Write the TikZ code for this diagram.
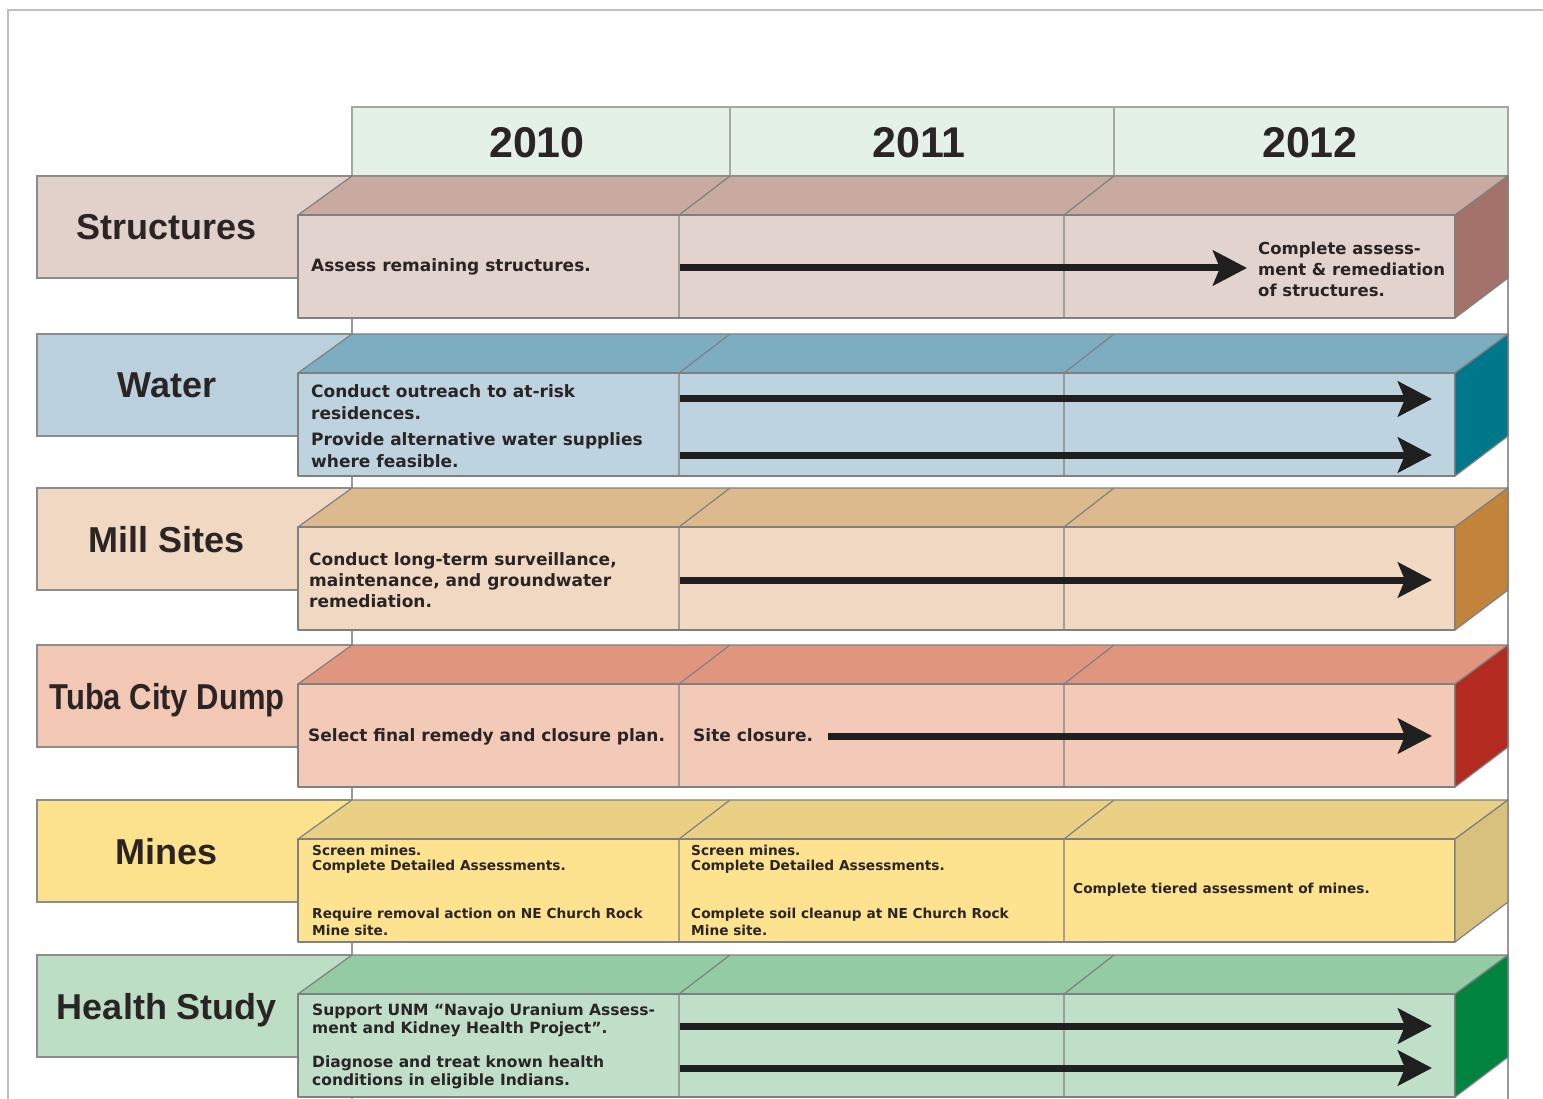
\documentclass[tikz,border=0pt]{standalone}
\usepackage{graphicx}
\usepackage{fontspec}
\setmainfont{DejaVu Sans}
\newfontfamily\labfont{Liberation Sans}
\newfontfamily\txtfont{DejaVu Sans}
\usetikzlibrary{arrows.meta}

\definecolor{hdrF}{HTML}{E3F1E7}
\definecolor{strL}{HTML}{E2D0CB}\definecolor{strT}{HTML}{C9AAA1}\definecolor{strF}{HTML}{E3D3CF}\definecolor{strR}{HTML}{A3726A}
\definecolor{watL}{HTML}{BBD0DD}\definecolor{watT}{HTML}{7DADC0}\definecolor{watF}{HTML}{BED3E0}\definecolor{watR}{HTML}{00788B}
\definecolor{milL}{HTML}{F0D8C2}\definecolor{milT}{HTML}{DDB98E}\definecolor{milF}{HTML}{F1D8C2}\definecolor{milR}{HTML}{C1843A}
\definecolor{tubL}{HTML}{F2C8B5}\definecolor{tubT}{HTML}{E0967E}\definecolor{tubF}{HTML}{F2CAB7}\definecolor{tubR}{HTML}{B22A20}
\definecolor{minL}{HTML}{FDE28E}\definecolor{minT}{HTML}{EAD085}\definecolor{minF}{HTML}{FDE38F}\definecolor{minR}{HTML}{D7C17C}
\definecolor{heaL}{HTML}{BBDEC5}\definecolor{heaT}{HTML}{93CBA4}\definecolor{heaF}{HTML}{C0DFC9}\definecolor{heaR}{HTML}{00843F}
\definecolor{inkc}{HTML}{2A2424}

\newcommand\mlines[1]{\vtop{\halign{##\hfil\cr#1\crcr}}}

\tikzset{
  frameline/.style={draw=black!25, line width=2pt},
  gridline/.style={draw=black!40, line width=1.3pt},
  edgeline/.style={draw=black!50, line width=1.2pt, line join=round},
  lblbox/.style={draw=black!45, line width=1.6pt},
  hdrbox/.style={draw=black!35, line width=1.5pt, fill=hdrF},
  rowlabel/.style={font=\labfont\bfseries\fontsize{36}{40}\selectfont, text=inkc, inner sep=0pt, anchor=base},
  yearlabel/.style={font=\labfont\bfseries\fontsize{43}{48}\selectfont, text=inkc, inner sep=0pt, anchor=base},
  txt/.style={font=\txtfont\bfseries\fontsize{17}{21}\selectfont, text=inkc, inner sep=0pt, anchor=base west},
  righttxt/.style={txt, font=\txtfont\bfseries\fontsize{16.5}{21}\selectfont},
  minetxt/.style={txt, font=\txtfont\bfseries\fontsize{13.7}{15}\selectfont},
  minetxtb/.style={txt, font=\txtfont\bfseries\fontsize{13.7}{17}\selectfont},
  healthtxt/.style={txt, font=\txtfont\bfseries\fontsize{15.5}{18.5}\selectfont},
  arr/.style={line width=7pt, draw=black!88, -{Stealth[length=34pt,width=35pt,inset=7pt]}},
}

% #1 name, #2 top y, #3 colour prefix, #4 label
\newcommand\barrow[4]{%
  \draw[lblbox, fill=#3L] (37,#2) rectangle (352,{#2+102});
  \node[rowlabel] (#1-label) at (167,{#2+64}) {#4};
  \draw[edgeline, fill=#3T] (298,{#2+39}) -- (352,#2) -- (1508,#2) -- (1455,{#2+39}) -- cycle;
  \draw[edgeline, fill=#3F] (298,{#2+39}) rectangle (1455,{#2+142});
  \draw[edgeline, fill=#3R] (1455,{#2+39}) -- (1508,#2) -- (1508,{#2+102}) -- (1455,{#2+142}) -- cycle;
  \draw[edgeline] (679,{#2+142}) -- (679,{#2+39}) -- (730,#2);
  \draw[edgeline] (1064,{#2+142}) -- (1064,{#2+39}) -- (1114,#2);
}

\begin{document}
\begin{tikzpicture}[x=1pt,y=-1pt]
\useasboundingbox[fill=white] (0,0) rectangle (1543,1099);
\draw[frameline] (8,1099) -- (8,10) -- (1543,10);
\draw[gridline] (352,176) -- (352,1099);
\draw[gridline] (1508,176) -- (1508,1099);

% header
\draw[hdrbox] (352,107) rectangle (1508,176);
\draw[hdrbox] (730,107) -- (730,176);
\draw[hdrbox] (1114,107) -- (1114,176);
\node[yearlabel] (y2010) at (537,158) {2010};
\node[yearlabel] (y2011) at (919,158) {2011};
\node[yearlabel] (y2012) at (1310,158) {2012};

% Structures
\barrow{str}{176}{str}{Structures}
\node[txt] (str-a) at (311,272) {Assess remaining structures.};
\node[righttxt] (str-b) at (1258,255) {\mlines{Complete assess-\cr ment \& remediation\cr of structures.}};
\coordinate (str-s) at (680,268);
\coordinate (str-e) at (1247,268);
\draw[arr] (str-s) -- (str-e);

% Water
\barrow{wat}{334}{wat}{Water}
\node[txt] (wat-a) at (311,398) {\mlines{Conduct outreach to at-risk\cr residences.}};
\node[txt] (wat-b) at (311,446) {\mlines{Provide alternative water supplies\cr where feasible.}};
\coordinate (wat-s1) at (680,399);
\coordinate (wat-e1) at (1432,399);
\coordinate (wat-s2) at (680,455);
\coordinate (wat-e2) at (1432,455);
\draw[arr] (wat-s1) -- (wat-e1);
\draw[arr] (wat-s2) -- (wat-e2);

% Mill Sites
\barrow{mil}{488}{mil}{Mill Sites}
\node[txt] (mil-a) at (309,565) {\mlines{Conduct long-term surveillance,\cr maintenance, and groundwater\cr remediation.}};
\coordinate (mil-s) at (680,580);
\coordinate (mil-e) at (1432,580);
\draw[arr] (mil-s) -- (mil-e);

% Tuba City Dump
\barrow{tub}{645}{tub}{\scalebox{0.86}[1]{Tuba City Dump}}
\node[txt] (tub-a) at (308,741) {Select final remedy and closure plan.};
\node[txt] (tub-b) at (693,741) {Site closure.};
\coordinate (tub-s) at (828,736);
\coordinate (tub-e) at (1432,736);
\draw[arr] (tub-s) -- (tub-e);

% Mines
\barrow{min}{800}{min}{Mines}
\node[minetxt] (min-a1) at (312,855) {\mlines{Screen mines.\cr Complete Detailed Assessments.}};
\node[minetxtb] (min-a2) at (312,918) {\mlines{Require removal action on NE Church Rock\cr Mine site.}};
\node[minetxt] (min-b1) at (691,855) {\mlines{Screen mines.\cr Complete Detailed Assessments.}};
\node[minetxtb] (min-b2) at (691,918) {\mlines{Complete soil cleanup at NE Church Rock\cr Mine site.}};
\node[minetxt] (min-c) at (1073,893) {Complete tiered assessment of mines.};

% Health Study
\barrow{hea}{955}{hea}{Health Study}
\node[healthtxt] (hea-a) at (312,1015) {\mlines{Support UNM “Navajo Uranium Assess-\cr ment and Kidney Health Project”.}};
\node[healthtxt] (hea-b) at (312,1067) {\mlines{Diagnose and treat known health\cr conditions in eligible Indians.}};
\coordinate (hea-s1) at (680,1026);
\coordinate (hea-e1) at (1432,1026);
\coordinate (hea-s2) at (680,1068);
\coordinate (hea-e2) at (1432,1068);
\draw[arr] (hea-s1) -- (hea-e1);
\draw[arr] (hea-s2) -- (hea-e2);
\end{tikzpicture}
\end{document}
